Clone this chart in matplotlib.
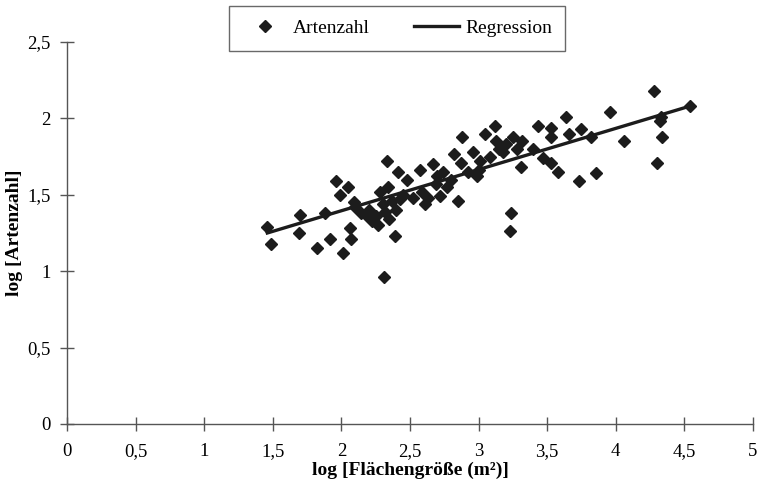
import numpy as np
import matplotlib.pyplot as plt
from matplotlib.ticker import FuncFormatter, MultipleLocator

# Data (log area vs. log species count)
log_flaeche = [1.46, 1.49, 1.70, 1.69, 1.82, 1.88, 1.92, 1.96, 1.99, 2.05,
               2.01, 2.06, 2.07, 2.09, 2.14, 2.10, 2.18, 2.20, 2.22, 2.25,
               2.27, 2.31, 2.33, 2.28, 2.34, 2.37, 2.43, 2.32, 2.30, 2.35,
               2.39, 2.41, 2.48, 2.45, 2.40, 2.52, 2.57, 2.59, 2.61, 2.63,
               2.67, 2.69, 2.72, 2.74, 2.70, 2.77, 2.82, 2.85, 2.87, 2.88,
               2.80, 2.92, 2.96, 2.99, 3.01, 3.00, 3.05, 3.08, 3.12, 3.15,
               3.13, 3.18, 3.20, 3.25, 3.28, 3.32, 3.31, 3.24, 3.23, 3.40,
               3.43, 3.47, 3.53, 3.53, 3.53, 3.58, 3.64, 3.66, 3.73, 3.75,
               3.82, 3.86, 3.96, 4.06, 4.28, 4.30, 4.32, 4.33, 4.34, 4.54]
log_arten = [1.29, 1.18, 1.37, 1.25, 1.15, 1.38, 1.21, 1.59, 1.50, 1.55,
             1.12, 1.28, 1.21, 1.45, 1.38, 1.42, 1.37, 1.40, 1.33, 1.36,
             1.30, 0.96, 1.72, 1.52, 1.55, 1.46, 1.47, 1.39, 1.44, 1.34,
             1.23, 1.65, 1.60, 1.50, 1.40, 1.48, 1.66, 1.52, 1.44, 1.48,
             1.70, 1.57, 1.49, 1.65, 1.62, 1.55, 1.77, 1.46, 1.71, 1.88,
             1.60, 1.65, 1.78, 1.62, 1.72, 1.66, 1.90, 1.75, 1.95, 1.80,
             1.85, 1.78, 1.83, 1.875, 1.80, 1.85, 1.68, 1.38, 1.26, 1.80,
             1.95, 1.74, 1.94, 1.88, 1.71, 1.65, 2.01, 1.90, 1.59, 1.93,
             1.88, 1.64, 2.04, 1.85, 2.18, 1.71, 1.98, 2.01, 1.88, 2.08]

# Regression line end points
reg_x = [1.46, 4.54]
reg_y = [1.25, 2.08]

plt.rcParams['font.family'] = ['Liberation Serif', 'DejaVu Serif']

fig = plt.figure(figsize=(7.62, 4.86), dpi=100)
ax = fig.add_axes([0.088, 0.1276, 0.900, 0.786])

ax.plot(log_flaeche, log_arten, linestyle='none', marker='D', ms=6.5,
        color='#1c1c1c', label='Artenzahl')
ax.plot(reg_x, reg_y, color='#1c1c1c', lw=2.4, label='Regression')

ax.set_xlim(0, 5)
ax.set_ylim(0, 2.5)
ax.xaxis.set_major_locator(MultipleLocator(0.5))
ax.yaxis.set_major_locator(MultipleLocator(0.5))
komma = FuncFormatter(lambda v, pos: ('%g' % v).replace('.', ','))
ax.xaxis.set_major_formatter(komma)
ax.yaxis.set_major_formatter(komma)

for s in ['top', 'right']:
    ax.spines[s].set_visible(False)
for s in ['left', 'bottom']:
    ax.spines[s].set_color('#555555')
    ax.spines[s].set_linewidth(1.0)
ax.tick_params(direction='inout', length=10, width=1, color='#555555',
               labelsize=13.5)
ax.tick_params(axis='x', pad=9)
ax.tick_params(axis='y', pad=7)

ax.set_xlabel('log [Flächengröße (m²)]', fontsize=14, fontweight='bold')
ax.set_ylabel('log [Artenzahl]', fontsize=14, fontweight='bold')
ax.xaxis.set_label_coords(0.5, -0.1)
ax.yaxis.set_label_coords(-0.064, 0.5)

fig.legend(loc='upper center', bbox_to_anchor=(0.521, 0.988), ncol=2,
           fontsize=14, frameon=True, fancybox=False, edgecolor='#444444',
           borderpad=0.7, handlelength=2.3, columnspacing=2.3,
           handletextpad=0.3, borderaxespad=0)

fig.savefig('out.png', dpi=100)
